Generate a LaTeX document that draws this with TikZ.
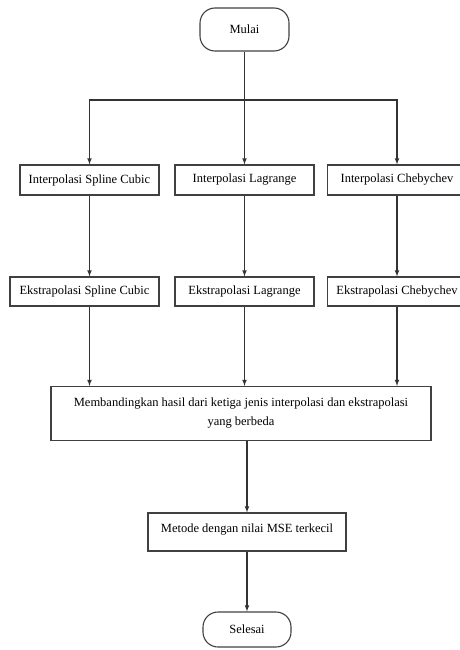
\documentclass[tikz,border=0pt]{standalone}
\usepackage{fontspec}
\setmainfont{Liberation Serif}
\usetikzlibrary{positioning}

\begin{document}
\begin{tikzpicture}
  [x=1pt,y=-1pt,>=latex,
   box font/.style={font=\fontsize{12.5}{19}\selectfont},
   process node/.style={box font,rectangle,draw=black!75,line width=1.1pt,minimum height=30pt,inner sep=2pt},
   terminal node/.style={box font,rectangle,draw=black!75,line width=1.1pt,rounded corners=15pt},
   flow/.style={->,line width=1.1pt,draw=black!80}]

\useasboundingbox (0,0) rectangle (459,650);

% start
\node[terminal node,minimum width=89pt,minimum height=43pt] (mulai) at (244.5,29.5) {Mulai};
\coordinate (split) at (244.5,100);

% interpolasi
\node[process node,minimum width=139pt] (interp1) at (89.5,180) {Interpolasi Spline Cubic};
\node[process node,minimum width=139pt] (interp2) at (244.5,180) {Interpolasi Lagrange};
\node[process node,minimum width=139pt] (interp3) at (397,180) {Interpolasi Chebychev};

% ekstrapolasi
\node[process node,minimum width=149pt,minimum height=29pt] (ekstr1) at (84.5,291.5) {Ekstrapolasi Spline Cubic};
\node[process node,minimum width=139pt,minimum height=29pt] (ekstr2) at (244.5,291.5) {Ekstrapolasi Lagrange};
\node[process node,minimum width=139pt,minimum height=29pt] (ekstr3) at (397,291.5) {Ekstrapolasi Chebychev};

% perbandingan
\node[process node,anchor=north,minimum width=380pt,align=center,inner ysep=11pt,text depth=4pt] (banding) at (241,386)
  {Membandingkan hasil dari ketiga jenis interpolasi dan ekstrapolasi\\yang berbeda};
\node[process node,minimum width=198pt,minimum height=38pt,inner ysep=10pt,text height=9pt,text depth=9pt] (metode) at (247,532)
  {Metode dengan nilai MSE terkecil};

% end
\node[terminal node,minimum width=88pt,minimum height=35pt] (selesai) at (247,629.5) {Selesai};

\draw[line width=1.1pt,draw=black!80] (mulai) -- (split);
\draw[flow] (split) -| (interp1);
\draw[flow] (split) -- (interp2);
\draw[flow] (split) -| (interp3);

\foreach \i in {1,2,3}{
  \draw[flow] (interp\i) -- (interp\i |- ekstr\i.north);
  \draw[flow] (interp\i |- ekstr\i.south) -- (interp\i |- banding.north);
}

\draw[flow] (metode |- banding.south) -- (metode);
\draw[flow] (metode) -- (selesai);

\end{tikzpicture}
\end{document}
